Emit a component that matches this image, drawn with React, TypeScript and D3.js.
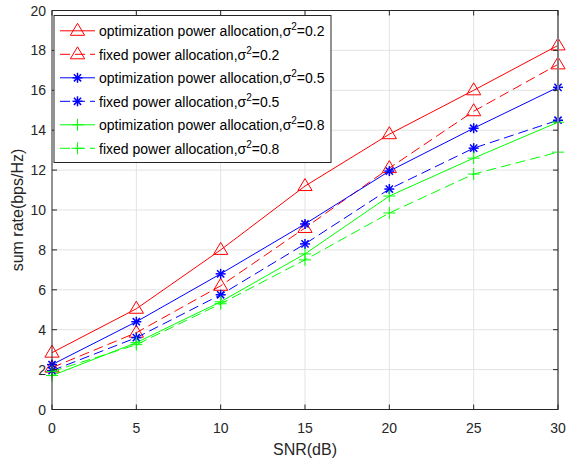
import React from "react";
import * as d3 from "d3";

const snr = [0, 5, 10, 15, 20, 25, 30];
const optRate02 = [2.85, 5.05, 8.0, 11.2, 13.8, 16.0, 18.25];
const fixRate02 = [2.1, 3.85, 6.2, 9.1, 12.1, 14.95, 17.3];
const optRate05 = [2.25, 4.4, 6.8, 9.3, 11.95, 14.1, 16.15];
const fixRate05 = [1.95, 3.6, 5.75, 8.3, 11.05, 13.1, 14.5];
const optRate08 = [1.7, 3.35, 5.4, 7.8, 10.7, 12.6, 14.4];
const fixRate08 = [1.9, 3.25, 5.3, 7.5, 9.85, 11.8, 12.9];
const xTicks = [0, 5, 10, 15, 20, 25, 30];
const yTicks = [0, 2, 4, 6, 8, 10, 12, 14, 16, 18, 20];
const legendNames = [
  "optimization power allocation,σ",
  "fixed power allocation,σ",
  "optimization power allocation,σ",
  "fixed power allocation,σ",
  "optimization power allocation,σ",
  "fixed power allocation,σ",
];
const legendSigma = ["0.2", "0.2", "0.5", "0.5", "0.8", "0.8"];

type Series = { values: number[]; color: string; dashed: boolean; marker: "tri" | "star" | "plus" };
const series: Series[] = [
  { values: optRate02, color: "#ff0000", dashed: false, marker: "tri" },
  { values: fixRate02, color: "#ff0000", dashed: true, marker: "tri" },
  { values: optRate05, color: "#0000ff", dashed: false, marker: "star" },
  { values: fixRate05, color: "#0000ff", dashed: true, marker: "star" },
  { values: optRate08, color: "#00ff00", dashed: false, marker: "plus" },
  { values: fixRate08, color: "#00ff00", dashed: true, marker: "plus" },
];

const W = 567, H = 462;
const L = 52, R = 558, T = 10.5, B = 409.5;
const FONT = "Liberation Sans, Arial, sans-serif";

function Marker({ x, y, type, color }: { x: number; y: number; type: string; color: string }) {
  if (type === "tri") {
    const s = 7.5;
    const pts = [[x, y - s], [x - s * 0.95, y + s * 0.6], [x + s * 0.95, y + s * 0.6]];
    return <polygon points={pts.map(p => p.join(",")).join(" ")} fill="none" stroke={color} strokeWidth={1} />;
  }
  if (type === "star") {
    const s = 5;
    const d = s * 0.72;
    return (
      <g stroke={color} strokeWidth={1.5}>
        <line x1={x - s} y1={y} x2={x + s} y2={y} />
        <line x1={x} y1={y - s} x2={x} y2={y + s} />
        <line x1={x - d} y1={y - d} x2={x + d} y2={y + d} />
        <line x1={x - d} y1={y + d} x2={x + d} y2={y - d} />
      </g>
    );
  }
  const s = 6;
  return (
    <g stroke={color} strokeWidth={1}>
      <line x1={x - s} y1={y} x2={x + s} y2={y} />
      <line x1={x} y1={y - s} x2={x} y2={y + s} />
    </g>
  );
}

export default function App() {
  const x = d3.scaleLinear().domain([0, 30]).range([L, R]);
  const y = d3.scaleLinear().domain([0, 20]).range([B, T]);
  const line = d3.line<number>().x((_, i) => x(snr[i])).y(d => y(d));

  const lgX = 54, lgY = 15.5, lgW = 277, lgH = 147;
  const rowH = 23.5;

  return (
    <svg width={W} height={H} style={{ position: "absolute", left: 0, top: 0 }} fontFamily={FONT}>
      <rect x={0} y={0} width={W} height={H} fill="#fff" />
      {/* grid */}
      <g stroke="#e3e3e3" strokeWidth={1}>
        {xTicks.slice(1, -1).map(t => (
          <line key={"gx" + t} x1={x(t)} x2={x(t)} y1={T} y2={B} />
        ))}
        {yTicks.slice(1, -1).map(t => (
          <line key={"gy" + t} x1={L} x2={R} y1={y(t)} y2={y(t)} />
        ))}
      </g>
      {/* series */}
      {series.map((s, i) => (
        <g key={i}>
          <path d={line(s.values) || ""} fill="none" stroke={s.color} strokeWidth={1}
            strokeDasharray={s.dashed ? "10,5" : undefined} />
          {s.values.map((v, j) => (
            <Marker key={j} x={x(snr[j])} y={y(v)} type={s.marker} color={s.color} />
          ))}
        </g>
      ))}
      {/* axes box */}
      <rect x={L} y={T} width={R - L} height={B - T} fill="none" stroke="#262626" strokeWidth={1} />
      <line x1={R} x2={R} y1={T} y2={B} stroke="#808080" strokeWidth={2} />
      {/* ticks */}
      <g stroke="#262626" strokeWidth={1}>
        {xTicks.map(t => (
          <g key={"tx" + t}>
            <line x1={x(t)} x2={x(t)} y1={B} y2={B - 5} />
            <line x1={x(t)} x2={x(t)} y1={T} y2={T + 5} />
          </g>
        ))}
        {yTicks.map(t => (
          <g key={"ty" + t}>
            <line x1={L} x2={L + 5} y1={y(t)} y2={y(t)} />
            <line x1={R} x2={R - 5} y1={y(t)} y2={y(t)} />
          </g>
        ))}
      </g>
      <g fontSize={14} fill="#262626">
        {xTicks.map(t => (
          <text key={"lx" + t} x={x(t)} y={B + 23} textAnchor="middle">{t}</text>
        ))}
        {yTicks.map(t => (
          <text key={"ly" + t} x={L - 6} y={y(t) + 5} textAnchor="end">{t}</text>
        ))}
      </g>
      <text x={(L + R) / 2} y={455} fontSize={16} textAnchor="middle" fill="#262626">SNR(dB)</text>
      <text transform={`translate(23,${(T + B) / 2}) rotate(-90)`} fontSize={16} textAnchor="middle" fill="#262626">sum rate(bps/Hz)</text>
      {/* legend */}
      <rect x={lgX} y={lgY} width={lgW} height={lgH} fill="#fff" stroke="#262626" strokeWidth={1} />
      {series.map((s, i) => {
        const cy = lgY + 15.3 + i * rowH;
        return (
          <g key={"lg" + i}>
            <line x1={60} x2={95} y1={cy} y2={cy} stroke={s.color} strokeWidth={1}
              strokeDasharray={s.dashed ? "10,5" : undefined} />
            <Marker x={77.5} y={cy} type={s.marker} color={s.color} />
            <text x={99} y={cy + 5.5} fontSize={14} fill="#000">
              {legendNames[i]}
              <tspan dy={-6} fontSize={10}>2</tspan>
              <tspan dy={6}>={legendSigma[i]}</tspan>
            </text>
          </g>
        );
      })}
    </svg>
  );
}
